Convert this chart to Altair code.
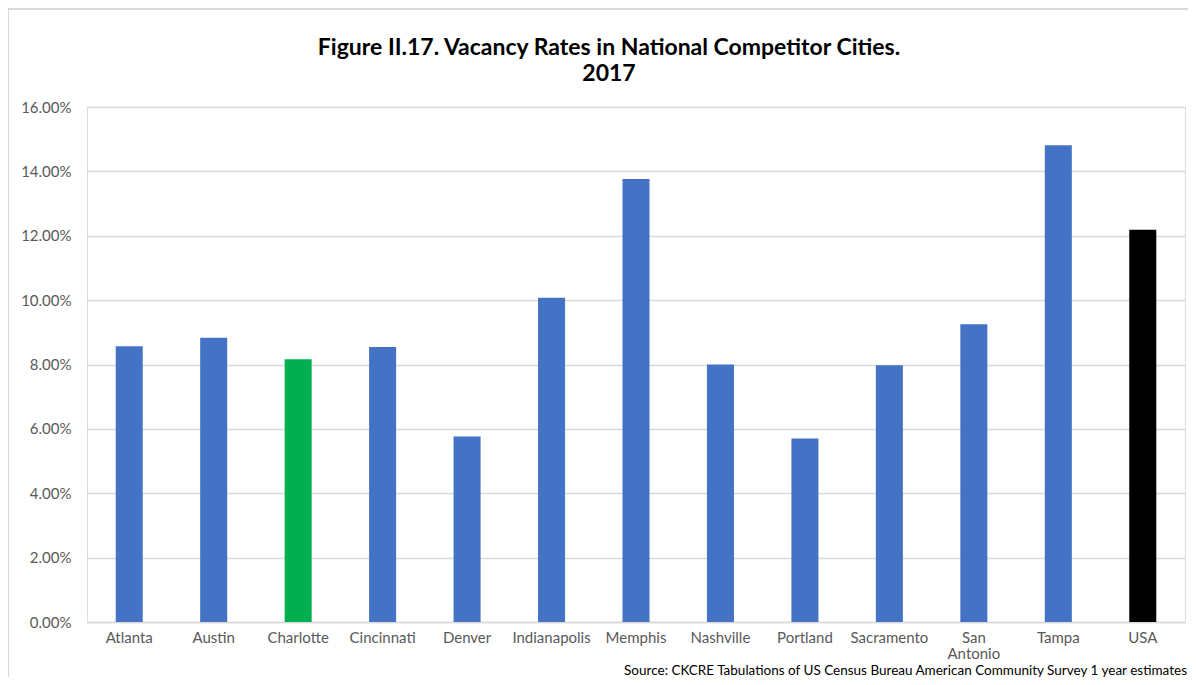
import altair as alt
import pandas as pd

cities = ["Atlanta", "Austin", "Charlotte", "Cincinnati", "Denver", "Indianapolis",
          "Memphis", "Nashville", "Portland", "Sacramento", "San Antonio", "Tampa", "USA"]
vacancy = [0.0857, 0.0883, 0.0816, 0.0854, 0.0576, 0.1007,
           0.1376, 0.0800, 0.0570, 0.0798, 0.0925, 0.1481, 0.1219]
bar_colors = ["#4472C4", "#4472C4", "#00B050", "#4472C4", "#4472C4", "#4472C4",
              "#4472C4", "#4472C4", "#4472C4", "#4472C4", "#4472C4", "#4472C4", "#000000"]
y_ticks = [0, 0.02, 0.04, 0.06, 0.08, 0.10, 0.12, 0.14, 0.16]
title_lines = ["Figure II.17. Vacancy Rates in National Competitor Cities.", "2017"]
source_text = "Source: CKCRE Tabulations of US Census Bureau American Community Survey 1 year estimates"

df = pd.DataFrame({"city": cities, "rate": vacancy})
one = pd.DataFrame({"k": [0]})

FONT = "Lato"
W, H = 1098, 515

bars = alt.Chart(df).mark_bar().encode(
    x=alt.X("city:N", sort=cities, title=None,
            scale=alt.Scale(paddingInner=0.68, paddingOuter=0.34),
            axis=alt.Axis(labelAngle=0, labelFont=FONT, labelFontSize=15, labelColor="#595959",
                          labelPadding=8, ticks=False, domainColor="#d9d9d9", domainWidth=1.5,
                          labelLineHeight=16.5,
                          labelExpr="datum.label == 'San Antonio' ? ['San', 'Antonio'] : datum.label")),
    y=alt.Y("rate:Q", title=None,
            scale=alt.Scale(domain=[0, 0.16], nice=False),
            axis=alt.Axis(values=y_ticks, format=".2%", labelFont=FONT, labelFontSize=15,
                          labelColor="#595959", labelPadding=16, ticks=False, domain=False,
                          gridColor="#d9d9d9", gridWidth=1.5)),
    color=alt.Color("city:N", scale=alt.Scale(domain=cities, range=bar_colors), legend=None),
)

title1 = alt.Chart(one).mark_text(font=FONT, fontSize=23, fontWeight="bold", color="#000000",
                                  align="center", baseline="alphabetic").encode(
    x=alt.value(522), y=alt.value(-52), text=alt.value(title_lines[0]))
title2 = alt.Chart(one).mark_text(font=FONT, fontSize=23, fontWeight="bold", color="#000000",
                                  align="center", baseline="alphabetic").encode(
    x=alt.value(522), y=alt.value(-26), text=alt.value(title_lines[1]))
source = alt.Chart(one).mark_text(font=FONT, fontSize=13.5, color="#000000",
                                  align="right", baseline="alphabetic").encode(
    x=alt.value(1100), y=alt.value(568), text=alt.value(source_text))

border_left = alt.Chart(one).mark_rule(color="#d9d9d9", strokeWidth=2).encode(
    x=alt.value(-79), y=alt.value(-99), y2=alt.value(571))
border_top = alt.Chart(one).mark_rule(color="#d9d9d9", strokeWidth=2).encode(
    x=alt.value(-80), x2=alt.value(1110), y=alt.value(-98))

chart = alt.layer(bars, title1, title2, source, border_left, border_top).properties(
    width=W, height=H,
    padding={"left": 79, "top": 99, "right": 3, "bottom": 55},
    autosize=alt.AutoSizeParams(type="none"),
).configure_view(stroke=None).configure(background="#ffffff")

chart.save("out.html", embed_options={"renderer": "svg", "actions": False})
